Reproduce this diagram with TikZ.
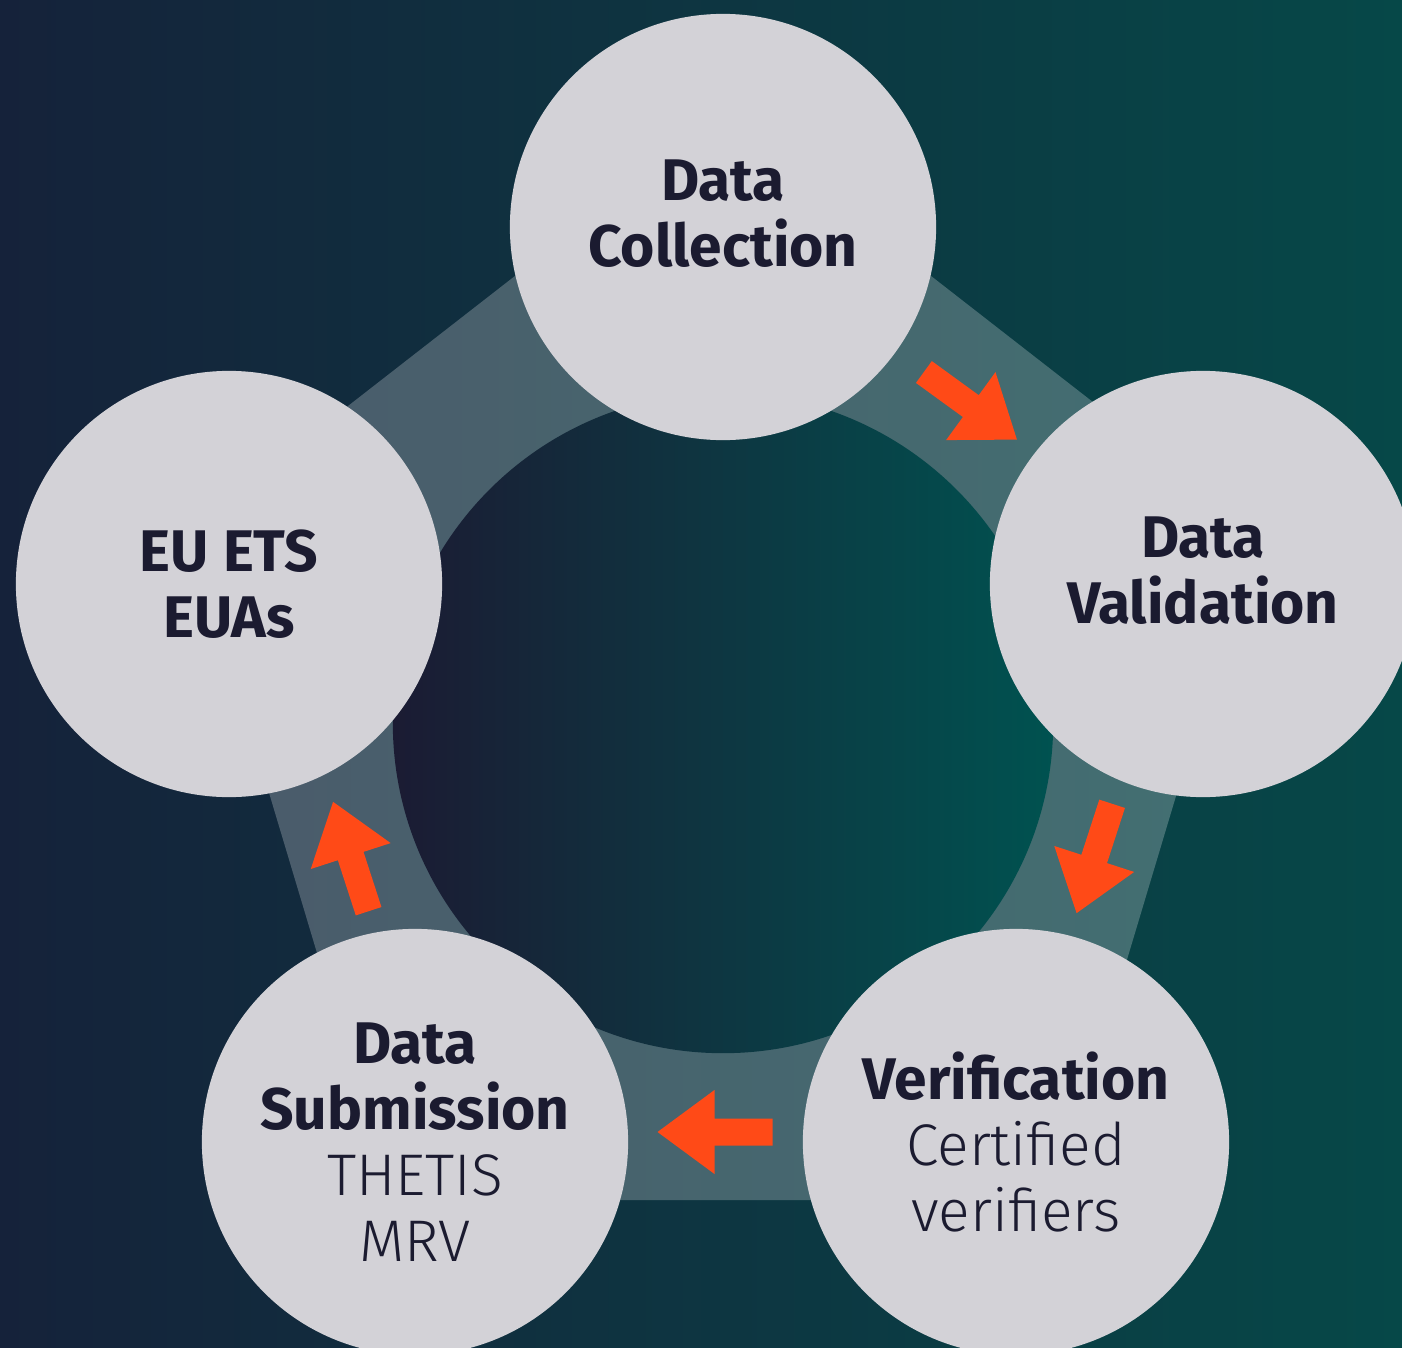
\documentclass[tikz,border=0pt]{standalone}
\usepackage{fontspec}
\setmainfont{Fira Sans}
\newfontfamily\lightfont{Fira Sans Light}
\usepackage{tikz}
\usetikzlibrary{calc}
\definecolor{bgnavy}{RGB}{21,34,58}
\definecolor{bgteal}{RGB}{6,72,72}
\definecolor{corenavy}{RGB}{27,27,51}
\definecolor{coreteal}{RGB}{0,82,80}
\definecolor{stagegrey}{RGB}{211,210,215}
\definecolor{inkdark}{RGB}{27,27,48}
\definecolor{flowred}{RGB}{255,74,23}
\tikzstyle{stage} = [circle, fill=stagegrey, text=inkdark, inner sep=0pt,
    minimum size=4.26cm, align=center, font=\fontsize{16.7}{18.8}\selectfont]
\tikzstyle{raised} = [text depth=0.28cm]
\tikzstyle{band} = [fill=white, fill opacity=0.24]
\tikzset{flowarrow/.pic={
    \fill[flowred] (-57,-13.5) -- (1,-13.5) -- (1,-42) -- (58,0)
        -- (1,42) -- (1,13.5) -- (-57,13.5) -- cycle;}}

\begin{document}
\begin{tikzpicture}[x=0.01cm, y=-0.01cm]
    \useasboundingbox (0,0) rectangle (1402,1348);
    \shade[left color=bgnavy, right color=bgteal] (0,0) rectangle (1402,1348);
    \clip (0,0) rectangle (1402,1348);
    % Band and core
    \fill[band] (723,114) -- (1256,529) -- (1055,1200) -- (391,1200) -- (190,529) -- cycle;
    \shade[left color=corenavy, right color=coreteal] (723,723) circle (3.3cm);
    % Place nodes
    \node [stage, raised] (collect) at (723,227) {\textbf{Data}\\\textbf{Collection}};
    \node [stage, raised] (valid) at (1203,584) {\textbf{Data}\\\textbf{Validation}};
    \node [stage] (verify) at (1016,1142) {\textbf{Verification}\\{\lightfont Certified}\\{\lightfont verifiers}};
    \node [stage] (submit) at (415,1142) {\textbf{Data}\\\textbf{Submission}\\{\lightfont THETIS}\\{\lightfont MRV}};
    \node [stage] (euets) at (229,584) {\textbf{EU ETS}\\\textbf{EUAs}};
    % Draw arrows
    \pic [rotate=-36] at ($(collect)!.5!(valid)+(7,0)$) {flowarrow};
    \pic [rotate=-108] at ($(valid)!.5!(verify)+(-15,-5)$) {flowarrow};
    \pic [rotate=180] at ($(verify)!.5!(submit)+(0,-10)$) {flowarrow};
    \pic [rotate=108] at ($(submit)!.5!(euets)+(29,-6)$) {flowarrow};
\end{tikzpicture}
\end{document}
